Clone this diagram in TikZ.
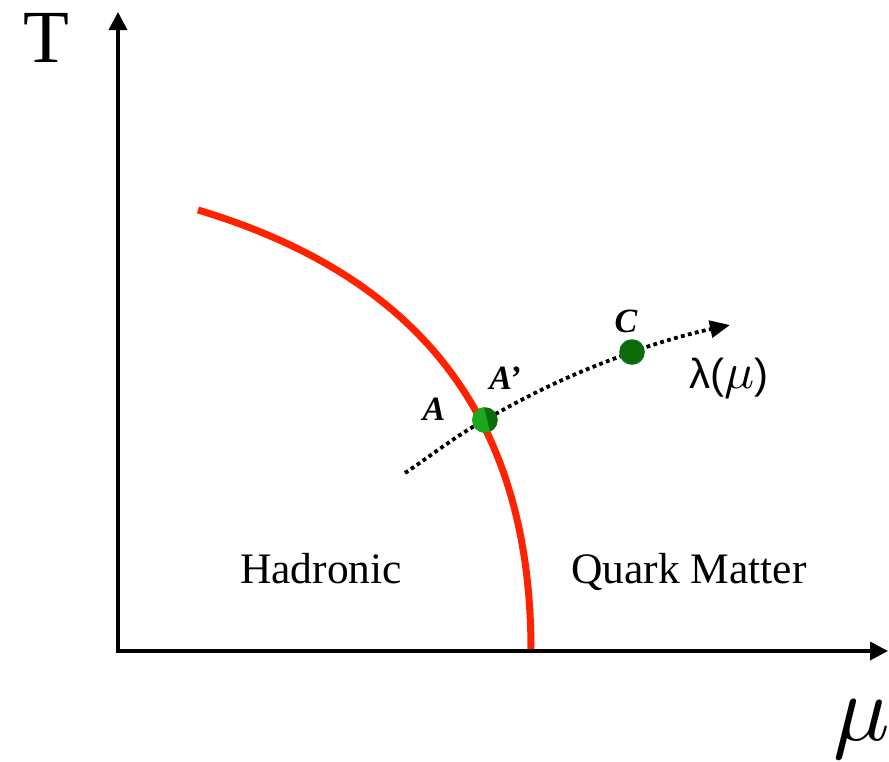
\documentclass[tikz,border=0pt]{standalone}
\usepackage{graphicx}
\usepackage{fontspec}
\setmainfont{Liberation Serif}
\newfontfamily\sansf{Liberation Sans}
\usetikzlibrary{arrows.meta}
\definecolor{curvered}{RGB}{255,34,0}
\definecolor{ltgreen}{RGB}{28,168,28}
\definecolor{dkgreen}{RGB}{10,108,10}
\tikzset{
  axis/.style={line width=3.5pt,-{Triangle[length=18pt,width=18pt]}},
  phaseline/.style={line width=7pt,curvered},
  flowpath/.style={line width=3.8pt,dash pattern=on 3.8pt off 3.4pt,-{Triangle[length=20pt,width=17pt]}},
  dotnode/.style={circle,inner sep=0pt,minimum size=25.6pt},
  ptlabel/.style={inner sep=0pt,anchor=base,font=\fontsize{34}{40}\selectfont\bfseries\itshape},
  region/.style={inner sep=0pt,anchor=base,font=\fontsize{43.5}{50}\selectfont},
}
\begin{document}
\begin{tikzpicture}[x=1pt,y=-1pt]
\useasboundingbox (0,0) rectangle (889,761);
% coordinates
\coordinate (O) at (118,651);
\coordinate (Ytip) at (118,12);
\coordinate (Xtip) at (888,651);
\coordinate (r0) at (198,210);
\coordinate (r1) at (531,651);
\coordinate (s0) at (405,473);
\coordinate (Ac) at (485,420);
\coordinate (Cc) at (632,352);
\coordinate (e0) at (730,325);
% phase boundary
\draw[phaseline] (r0) .. controls (433,280.5) and (531,432) .. (r1);
% axes
\draw[axis] (O) -- (Ytip);
\draw[axis] (116.25,651) -- (Xtip);
% trajectory
\draw[flowpath] (s0) .. controls (432,455) and (457,435) .. (Ac)
  .. controls (539,389) and (577,372) .. (Cc)
  .. controls (665,340) and (697,332) .. (e0);
% points
\node[dotnode,fill=dkgreen] (Ap) at (Ac) {};
\begin{scope}
  \clip (487.3,420.7) ++(-4.7,-19.4) -- ++(9.4,38.8) -- ++(-30,0) -- ++(-9.4,-38.8) -- cycle;
  \node[dotnode,fill=ltgreen] (A) at (Ac) {};
\end{scope}
\node[dotnode,fill=dkgreen] (C) at (Cc) {};
% labels
\node[ptlabel] (Alab) at (434,420) {A};
\node[ptlabel] (Aplab) at (505,389) {A’};
\node[ptlabel] (Clab) at (626,332) {C};
\node[inner sep=0pt,anchor=base,font=\fontsize{42}{48}\selectfont\sansf] (lam) at (729,388) {λ(\scalebox{5.0}{\normalsize$\mu$})};
\node[region] (had) at (321,583) {Hadronic};
\node[region] (qm) at (689,583) {Quark Matter};
\node[inner sep=0pt,font=\fontsize{75}{80}\selectfont] (T) at (46,37.5) {T};
\node[inner sep=0pt] (mu) at (862,729) {\scalebox{9.4}{\normalsize$\mu$}};
\end{tikzpicture}
\end{document}
